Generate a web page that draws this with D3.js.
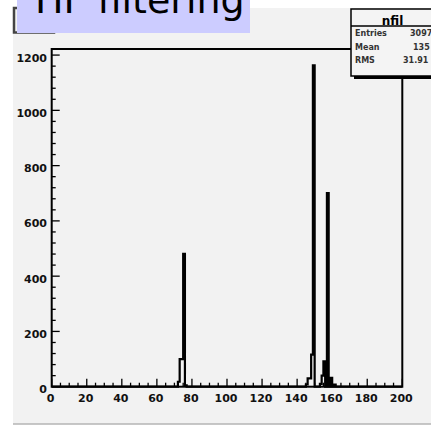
<!DOCTYPE html>
<html><head><meta charset="utf-8">
<script src="https://cdn.jsdelivr.net/npm/d3@7"></script>
<style>
html,body{margin:0;padding:0;background:#ffffff;}
svg{display:block;}
text{font-family:"DejaVu Sans",sans-serif;}
</style></head>
<body>
<script>
// ---- data ----
const binLow = [72, 73, 74, 75, 76, 145, 146, 147, 148, 149, 153, 154, 155, 157, 159, 161];
const binCounts = [18, 100, 100, 481, 5, 8, 30, 30, 116, 1163, 10, 40, 92, 701, 32, 8];
const xTickValues = [0, 20, 40, 60, 80, 100, 120, 140, 160, 180, 200];
const yTickValues = [0, 200, 400, 600, 800, 1000, 1200];
const statsLabels = ["Entries", "Mean", "RMS"];
const statsValues = ["3097", "135", "31.91"];
const histName = "nfil";
const titleText = "HF filtering";

const W = 431, H = 426;
const svg = d3.select("body").append("svg").attr("width", W).attr("height", H);

// pad
svg.append("rect").attr("x", 13).attr("y", 8).attr("width", W - 13).attr("height", 416).attr("fill", "#f2f2f2");
svg.append("line").attr("x1", 13).attr("x2", W).attr("y1", 424).attr("y2", 424).attr("stroke", "#b4b4b4").attr("stroke-width", 1.5);

const plot = {l: 51.7, r: 402.3, t: 49, b: 386.7};
const x = d3.scaleLinear().domain([0, 200]).range([plot.l, plot.r]);
const y = d3.scaleLinear().domain([0, 1222]).range([plot.b, plot.t]);

// histogram bins (200 bins of width 1)
const counts = new Array(200).fill(0);
binLow.forEach((b, i) => counts[b] = binCounts[i]);

// step outline
const pts = [];
pts.push([x(0), y(0)]);
for (let i = 0; i < 200; i++) {
  pts.push([x(i), y(counts[i])]);
  pts.push([x(i + 1), y(counts[i])]);
}
pts.push([x(200), y(0)]);
svg.append("path").attr("d", d3.line()(pts)).attr("fill", "none").attr("stroke", "#000").attr("stroke-width", 2.2).attr("stroke-linejoin", "miter");

// axes ticks
const g = svg.append("g");
d3.range(0, 201, 5).forEach(v => {
  const major = v % 20 === 0;
  g.append("line").attr("x1", x(v)).attr("x2", x(v)).attr("y1", plot.b).attr("y2", plot.b - (major ? 8 : 4))
    .attr("stroke", "#000").attr("stroke-width", 1.3);
});
d3.range(0, 1222, 40).forEach(v => {
  const major = v % 200 === 0;
  g.append("line").attr("x1", plot.l).attr("x2", plot.l + (major ? 8 : 4)).attr("y1", y(v)).attr("y2", y(v))
    .attr("stroke", "#000").attr("stroke-width", 1.3);
});

// frame
svg.append("rect").attr("x", plot.l).attr("y", plot.t).attr("width", plot.r - plot.l).attr("height", plot.b - plot.t)
  .attr("fill", "none").attr("stroke", "#000").attr("stroke-width", 2);

// tick labels
g.selectAll(".xl").data(xTickValues).enter().append("text")
  .attr("x", d => x(d) - 1).attr("y", 401.5).attr("text-anchor", "middle")
  .attr("font-size", 11).attr("font-weight", "bold").attr("fill", "#111").text(d => d);
g.selectAll(".yl").data(yTickValues).enter().append("text")
  .attr("x", 47).attr("y", d => y(d) + 6.5).attr("text-anchor", "end")
  .attr("font-size", 11).attr("font-weight", "bold").attr("fill", "#111").text(d => d);

// stats box
const sb = svg.append("g");
sb.append("rect").attr("x", 354).attr("y", 12).attr("width", 100).attr("height", 67).attr("fill", "#000");
sb.append("rect").attr("x", 351).attr("y", 9).attr("width", 100).attr("height", 67).attr("fill", "#f4f4f4")
  .attr("stroke", "#000").attr("stroke-width", 1.5);
sb.append("line").attr("x1", 351).attr("x2", W).attr("y1", 26).attr("y2", 26).attr("stroke", "#000").attr("stroke-width", 1.5);
sb.append("text").attr("x", 392.5).attr("y", 24.5).attr("text-anchor", "middle").attr("font-size", 12)
  .attr("font-weight", "bold").text(histName);
const rowY = [36, 49.5, 63];
const valX = [410, 413, 403];
statsLabels.forEach((s, i) => {
  sb.append("text").attr("x", 355).attr("y", rowY[i]).attr("font-size", 8).attr("font-weight", "bold").attr("fill", "#333").text(s);
  sb.append("text").attr("x", valX[i]).attr("y", rowY[i]).attr("font-size", 8).attr("font-weight", "bold").attr("fill", "#333").text(statsValues[i]);
});

// title box (shadow box behind, lavender label on top)
svg.append("rect").attr("x", 14).attr("y", 8).attr("width", 40).attr("height", 24.5).attr("fill", "#f2f2f2")
  .attr("stroke", "#444").attr("stroke-width", 2.5);
svg.append("rect").attr("x", 17).attr("y", 0).attr("width", 233).attr("height", 33).attr("fill", "#ccccff");
svg.append("text").attr("x", 35).attr("y", 13).attr("font-size", 38).attr("font-family", "'Liberation Sans', Arial, sans-serif")
  .attr("fill", "#000").text(titleText);
</script>
</body></html>
